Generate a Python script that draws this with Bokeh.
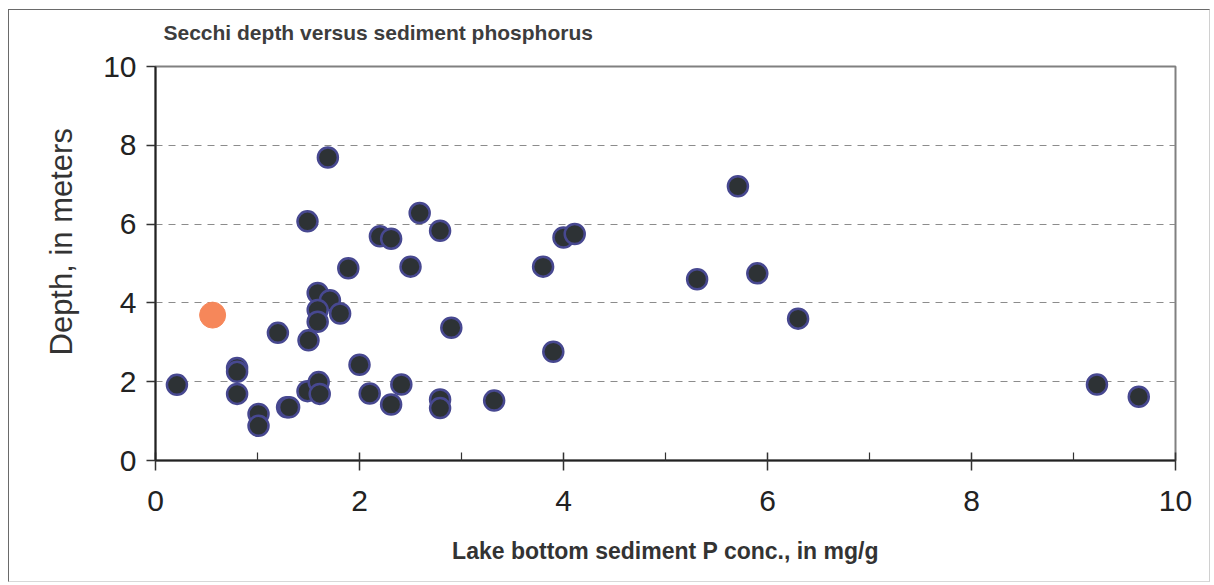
from bokeh.plotting import figure
from bokeh.models import Range1d, FixedTicker, ColumnDataSource, Title
from bokeh.embed import file_html
from bokeh.resources import INLINE

# Data
sed_p = [0.21, 0.80, 0.80, 0.80, 1.01, 1.01, 1.29, 1.31, 1.20, 1.50, 1.49, 1.69,
         1.59, 1.71, 1.59, 1.81, 1.59, 1.89, 1.49, 1.60, 1.61, 2.00, 2.10, 2.20,
         2.31, 2.31, 2.41, 2.50, 2.59, 2.79, 2.79, 2.79, 2.90, 3.32, 3.80, 3.90,
         4.00, 4.11, 5.31, 5.71, 5.90, 6.30, 9.23, 9.64]
depth = [1.92, 2.35, 2.25, 1.69, 1.18, 0.88, 1.35, 1.35, 3.24, 3.05, 6.07, 7.69,
         4.25, 4.07, 3.82, 3.73, 3.52, 4.88, 1.76, 1.99, 1.69, 2.43, 1.70, 5.69,
         5.63, 1.42, 1.93, 4.92, 6.28, 5.83, 1.55, 1.33, 3.37, 1.52, 4.92, 2.76,
         5.66, 5.75, 4.60, 6.96, 4.75, 3.60, 1.93, 1.62]
highlight_p = [0.56]
highlight_depth = [3.69]

x_ticks = [0, 2, 4, 6, 8, 10]
x_minor_ticks = [1, 3, 5, 7, 9]
y_ticks = [0, 2, 4, 6, 8, 10]

title_text = "Secchi depth versus sediment phosphorus"
x_label = "Lake bottom sediment P conc., in mg/g"
y_label = "Depth, in meters"

FONT = "Liberation Sans"

p = figure(width=1202, height=573, output_backend="svg", toolbar_location=None,
           x_range=Range1d(0, 10), y_range=Range1d(0, 10),
           min_border_left=146, min_border_right=36,
           min_border_top=56, min_border_bottom=123)
p.margin = (9, 4, 3, 8)
p.styles = {"border-left": "1px solid #6a6a6a", "border-top": "1px solid #6a6a6a",
            "border-right": "1px solid #d0d0d0", "border-bottom": "1px solid #d8d8d8"}

p.outline_line_color = "#808080"
p.outline_line_width = 2

# title (spacer panel first, then the real title above it)
p.title.text = ""
p.add_layout(Title(text=" ", text_font_size="16px", standoff=0), "above")
p.add_layout(Title(text=title_text, text_font=FONT, text_font_style="bold",
                   text_font_size="21px", text_color="#3d3d3d", align="left",
                   offset=8, standoff=8), "above")

# y label as a side title so it can sit a little above the frame centre
p.add_layout(Title(text=y_label, align="left", offset=105, standoff=43,
                   text_font=FONT, text_font_style="normal",
                   text_font_size="31px", text_color="#333333"), "left")

# axes
p.xaxis.ticker = FixedTicker(ticks=x_ticks, minor_ticks=x_minor_ticks)
p.yaxis.ticker = FixedTicker(ticks=y_ticks)
for ax in (p.xaxis[0], p.yaxis[0]):
    ax.axis_line_color = "#222222"
    ax.axis_line_width = 2
    ax.major_tick_line_color = "#333333"
    ax.major_tick_line_width = 1.5
    ax.major_label_text_font = FONT
    ax.major_label_text_font_size = "30px"
    ax.major_label_text_color = "#222222"
    ax.axis_label_text_font = FONT
    ax.axis_label_text_color = "#333333"
p.xaxis.major_tick_in = 8
p.xaxis.major_tick_out = 10
p.xaxis.minor_tick_in = 8
p.xaxis.minor_tick_out = 0
p.xaxis.minor_tick_line_color = "#333333"
p.xaxis.minor_tick_line_width = 1.2
p.xaxis.major_label_standoff = 20
p.xaxis.axis_label = x_label
p.xaxis.axis_label_text_font_style = "bold"
p.xaxis.axis_label_text_font_size = "23px"
p.xaxis.axis_label_standoff = 24

p.yaxis.major_tick_in = 0
p.yaxis.major_tick_out = 9
p.yaxis.minor_tick_line_color = None
p.yaxis.major_label_standoff = 10

p.xgrid.grid_line_color = None
p.ygrid.grid_line_color = "#8c8c8c"
p.ygrid.grid_line_dash = "7 6"
p.ygrid.grid_line_width = 1

src = ColumnDataSource(dict(x=sed_p, y=depth))
p.scatter("x", "y", source=src, size=20, fill_color="#2d3235",
          line_color="#474890", line_width=2.5)
p.scatter(highlight_p, highlight_depth, size=26, fill_color="#f6875a",
          line_color="#f6875a", line_width=1)

open("out.html", "w").write(file_html(p, INLINE))
